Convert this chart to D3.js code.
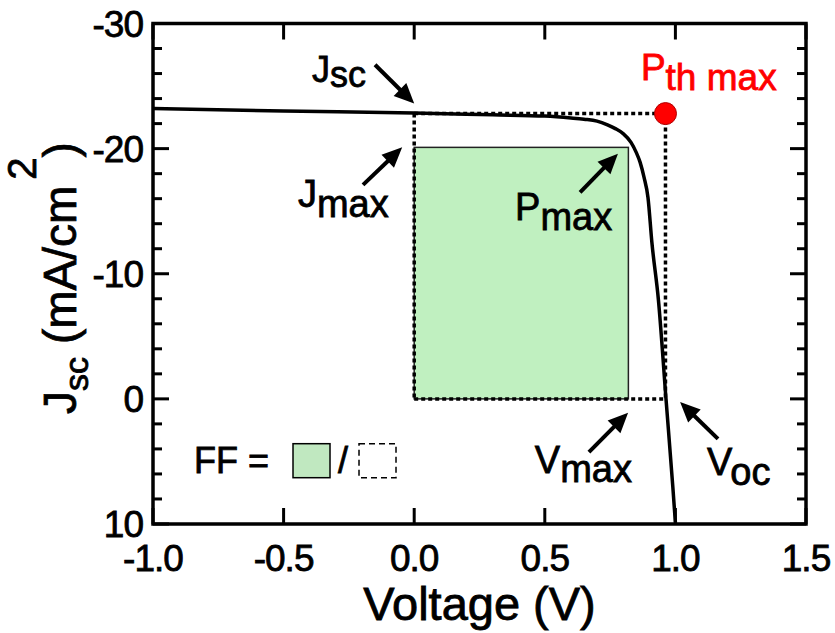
<!DOCTYPE html>
<html>
<head>
<meta charset="utf-8">
<script src="https://cdn.jsdelivr.net/npm/d3@7"></script>
<style>
  html, body { margin: 0; padding: 0; background: #fff; }
  svg text { font-family: "Liberation Sans", Arial, sans-serif; fill: #000; stroke: #000; stroke-width: 0.8px; }
  svg text.red { fill: #ff0000; stroke: #ff0000; }
</style>
</head>
<body>
<svg id="chart" width="835" height="633"></svg>
<script>
// J–V curve of the solar cell (V in volts, J in mA/cm²)
const voltage = [-1.0, -0.5, 0.0, 0.3, 0.5, 0.6, 0.65, 0.7, 0.74, 0.77, 0.8, 0.83, 0.85, 0.865, 0.88, 0.895, 0.91, 0.935, 0.964, 0.99, 1.0];
const current = [-23.2, -23.0, -22.85, -22.7, -22.6, -22.45, -22.35, -22.2, -21.9, -21.6, -21.2, -20.5, -19.7, -18.9, -17.7, -16.1, -12.5, -7.9, 0.0, 7.0, 9.9];

// characteristic points
const jsc = -22.8;
const voc = 0.962;
const vmax = 0.82;
const jmax = -20.1;

// axis ticks
const xTicks = [-1.0, -0.5, 0.0, 0.5, 1.0, 1.5];
const xTickLabels = ["-1.0", "-0.5", "0.0", "0.5", "1.0", "1.5"];
const yTicks = [-30, -20, -10, 0, 10];
const yTickLabels = ["-30", "-20", "-10", "0", "10"];
const yMinorTicks = [-28, -26, -24, -22, -18, -16, -14, -12, -8, -6, -4, -2, 2, 4, 6, 8];

// annotation arrows: [tailV, tailJ, tipV, tipJ]
const arrowJsc = [-0.15, -26.7, 0.0, -23.6];
const arrowJmax = [-0.196, -17.1, -0.046, -20.1];
const arrowPmax = [0.635, -16.5, 0.78, -19.6];
const arrowVmax = [0.669, 4.25, 0.819, 1.1];
const arrowVoc = [1.163, 3.2, 1.018, 0.25];

const svg = d3.select("#chart");
const margin = { left: 153, right: 29, top: 23.5, bottom: 109 };
const W = 835, H = 633;

const x = d3.scaleLinear().domain([-1.0, 1.5]).range([margin.left, W - margin.right]);
const y = d3.scaleLinear().domain([-30, 10]).range([margin.top, H - margin.bottom]);

const x0 = x.range()[0], x1 = x.range()[1];
const y0 = y.range()[0], y1 = y.range()[1];

svg.append("defs").append("clipPath").attr("id", "plotclip")
  .append("rect").attr("x", x0).attr("y", y0).attr("width", x1 - x0).attr("height", y1 - y0);

// fill-factor rectangle (maximum power)
svg.append("rect")
  .attr("x", x(0)).attr("y", y(jmax))
  .attr("width", x(vmax) - x(0)).attr("height", y(0) - y(jmax))
  .attr("fill", "#c0f0c0").attr("stroke", "#222").attr("stroke-width", 1.5);

// theoretical maximum rectangle (dotted)
const dotted = svg.append("g")
  .attr("fill", "none").attr("stroke", "#000")
  .attr("stroke-width", 3.5).attr("stroke-dasharray", "4,3");
dotted.append("line").attr("x1", x(0)).attr("x2", x(voc)).attr("y1", y(jsc)).attr("y2", y(jsc));
dotted.append("line").attr("x1", x(voc)).attr("x2", x(voc)).attr("y1", y(jsc)).attr("y2", y(0));
dotted.append("line").attr("x1", x(0)).attr("x2", x(voc)).attr("y1", y(0)).attr("y2", y(0));
dotted.append("line").attr("x1", x(0)).attr("x2", x(0)).attr("y1", y(jsc)).attr("y2", y(0));

// J–V curve
const line = d3.line()
  .x((d, i) => x(voltage[i]))
  .y((d, i) => y(current[i]))
  .curve(d3.curveMonotoneX);
svg.append("path")
  .datum(voltage)
  .attr("clip-path", "url(#plotclip)")
  .attr("d", line)
  .attr("fill", "none").attr("stroke", "#000").attr("stroke-width", 3.5);

// P_th max marker
svg.append("circle")
  .attr("cx", x(voc)).attr("cy", y(jsc)).attr("r", 11)
  .attr("fill", "#ff0000").attr("stroke", "#b00000").attr("stroke-width", 1);

// frame and ticks
const axes = svg.append("g").attr("stroke", "#000").attr("fill", "none");
const majorLen = 16, minorLen = 9;
xTicks.forEach(v => {
  axes.append("line").attr("x1", x(v)).attr("x2", x(v)).attr("y1", y1).attr("y2", y1 - majorLen).attr("stroke-width", 3);
  axes.append("line").attr("x1", x(v)).attr("x2", x(v)).attr("y1", y0).attr("y2", y0 + majorLen).attr("stroke-width", 3);
});
yTicks.forEach(v => {
  axes.append("line").attr("x1", x0).attr("x2", x0 + majorLen).attr("y1", y(v)).attr("y2", y(v)).attr("stroke-width", 3);
  axes.append("line").attr("x1", x1).attr("x2", x1 - majorLen).attr("y1", y(v)).attr("y2", y(v)).attr("stroke-width", 3);
});
yMinorTicks.forEach(v => {
  axes.append("line").attr("x1", x0).attr("x2", x0 + minorLen).attr("y1", y(v)).attr("y2", y(v)).attr("stroke-width", 3);
  axes.append("line").attr("x1", x1).attr("x2", x1 - minorLen).attr("y1", y(v)).attr("y2", y(v)).attr("stroke-width", 3);
});
axes.append("rect").attr("x", x0).attr("y", y0).attr("width", x1 - x0).attr("height", y1 - y0)
  .attr("stroke-width", 3.5);

// tick labels
const tickFont = 37;
svg.append("g").selectAll("text").data(xTicks).join("text")
  .attr("x", v => x(v)).attr("y", y1 + 47)
  .attr("text-anchor", "middle").attr("font-size", tickFont)
  .attr("letter-spacing", -1)
  .text((v, i) => xTickLabels[i]);
svg.append("g").selectAll("text").data(yTicks).join("text")
  .attr("x", x0 - 10).attr("y", v => y(v) + 13)
  .attr("text-anchor", "end").attr("font-size", tickFont)
  .attr("letter-spacing", -1)
  .text((v, i) => yTickLabels[i]);

// axis titles
svg.append("text")
  .attr("x", (x0 + x1) / 2 - 0).attr("y", 620)
  .attr("text-anchor", "middle").attr("font-size", 47)
  .text("Voltage (V)");

const yTitle = svg.append("text")
  .attr("transform", "translate(76,278) rotate(-90)")
  .attr("text-anchor", "middle").attr("font-size", 46);
yTitle.append("tspan").text("J");
yTitle.append("tspan").attr("font-size", 34).attr("dy", 12).text("sc");
yTitle.append("tspan").attr("dy", -12).text(" (mA/cm");
yTitle.append("tspan").attr("font-size", 40).attr("dy", -40).attr("dx", 6).text("2");
yTitle.append("tspan").attr("dy", 40).text(")");

// arrows
function arrow(a) {
  const tx = x(a[0]), ty = y(a[1]), hx = x(a[2]), hy = y(a[3]);
  const ang = Math.atan2(hy - ty, hx - tx);
  const headLen = 20, headHalf = 9;
  const bx = hx - headLen * Math.cos(ang), by = hy - headLen * Math.sin(ang);
  svg.append("line").attr("x1", tx).attr("y1", ty).attr("x2", bx + Math.cos(ang)).attr("y2", by + Math.sin(ang))
    .attr("stroke", "#000").attr("stroke-width", 4);
  const px = -Math.sin(ang) * headHalf, py = Math.cos(ang) * headHalf;
  svg.append("path")
    .attr("d", `M${hx},${hy}L${bx + px},${by + py}L${bx - px},${by - py}Z`)
    .attr("fill", "#000");
}
[arrowJsc, arrowJmax, arrowPmax, arrowVmax, arrowVoc].forEach(arrow);

// annotation labels with subscripts
function subLabel(v, j, main, sub, size, drop, cls) {
  const t = svg.append("text").attr("x", x(v)).attr("y", y(j))
    .attr("font-size", size);
  if (cls) t.attr("class", cls);
  t.append("tspan").text(main);
  t.append("tspan").attr("dy", drop).text(sub);
  return t;
}
subLabel(-0.391, -25.3, "J", "sc", 36, 5);
subLabel(-0.445, -15.3, "J", "max", 38, 10);
subLabel(0.386, -14.3, "P", "max", 38, 10);
subLabel(0.868, -25.5, "P", "th max", 37, 10, "red");
subLabel(0.462, 5.9, "V", "max", 38, 9);
subLabel(1.121, 6.1, "V", "oc", 38, 10);

// FF = (filled area) / (ideal area)
const ffX = x(-0.843), ffY = y(5.9);
svg.append("text").attr("x", ffX).attr("y", ffY).attr("font-size", 36).text("FF =");
svg.append("rect").attr("x", ffX + 99).attr("y", ffY - 29).attr("width", 37).attr("height", 34)
  .attr("fill", "#c0e8c0").attr("stroke", "#000").attr("stroke-width", 1.5);
svg.append("text").attr("x", ffX + 144).attr("y", ffY).attr("font-size", 36).text("/");
svg.append("rect").attr("x", ffX + 165).attr("y", ffY - 29).attr("width", 37).attr("height", 34)
  .attr("fill", "none").attr("stroke", "#000").attr("stroke-width", 1.5).attr("stroke-dasharray", "6,4");
</script>
</body>
</html>
